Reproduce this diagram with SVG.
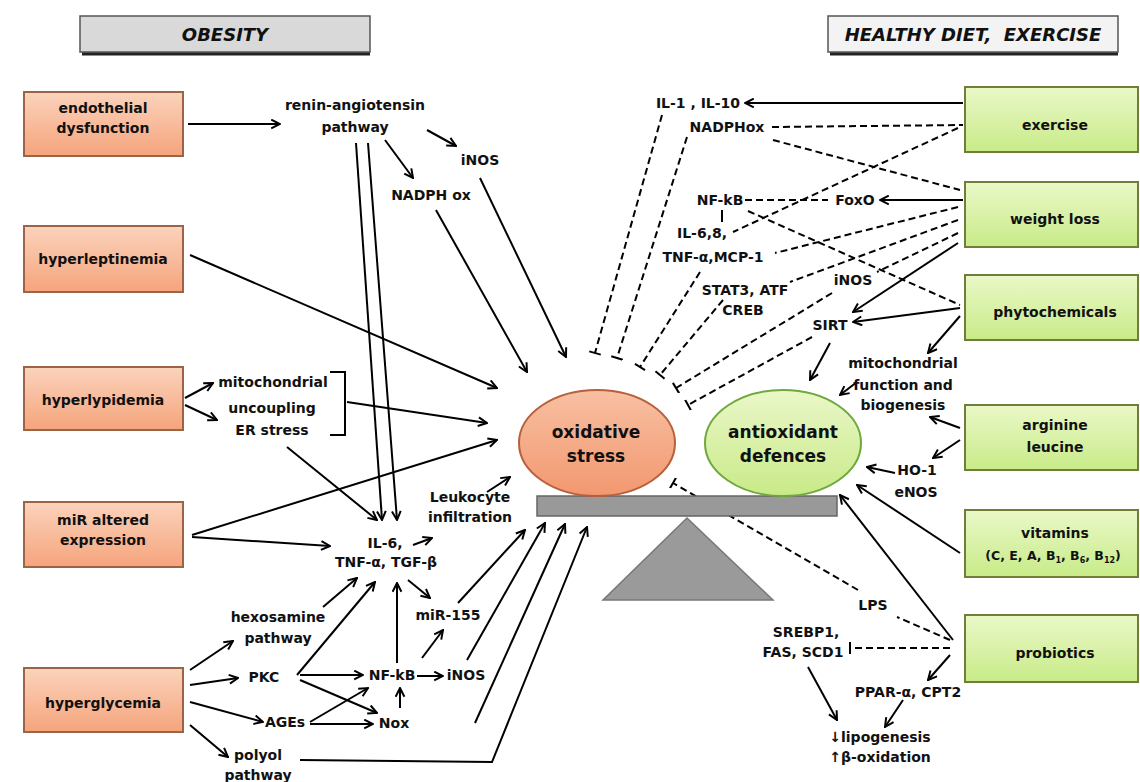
<svg xmlns="http://www.w3.org/2000/svg" width="1140" height="782" viewBox="0 0 1140 782">
<style>
.t{font-family:"DejaVu Sans",sans-serif;font-weight:bold;font-size:14px;text-anchor:middle;fill:#111}
.e{font-family:"DejaVu Sans",sans-serif;font-weight:bold;font-size:17px;text-anchor:middle;fill:#111}
.h{font-family:"DejaVu Sans",sans-serif;font-weight:bold;font-style:italic;font-size:18px;text-anchor:middle;fill:#111;white-space:pre}
.ob{fill:url(#og);stroke:#9c6446;stroke-width:2}
.gb{fill:url(#gg);stroke:#6f7f3a;stroke-width:2}
.s{fill:none;stroke:#000;stroke-width:2}
.d{fill:none;stroke:#000;stroke-width:2;stroke-dasharray:7,4}
.a{marker-end:url(#ah)}
.b{marker-end:url(#tb)}
</style>
<defs>
<linearGradient id="og" x1="0" y1="0" x2="0" y2="1"><stop offset="0" stop-color="#fbd3bc"/><stop offset="1" stop-color="#f5a47c"/></linearGradient>
<linearGradient id="gg" x1="0" y1="0" x2="0" y2="1"><stop offset="0" stop-color="#eaf8c8"/><stop offset="1" stop-color="#c8eb88"/></linearGradient>
<linearGradient id="oe" x1="0" y1="0" x2="0" y2="1"><stop offset="0" stop-color="#f8c0a2"/><stop offset="1" stop-color="#f29870"/></linearGradient>
<linearGradient id="ge" x1="0" y1="0" x2="0" y2="1"><stop offset="0" stop-color="#eaf7c8"/><stop offset="1" stop-color="#c9ea88"/></linearGradient>
<marker id="ah" viewBox="0 0 10 10" refX="9" refY="5" markerWidth="11" markerHeight="11" orient="auto" markerUnits="userSpaceOnUse"><path d="M1,1 L9,5 L1,9" fill="none" stroke="#000" stroke-width="1.8"/></marker>
<marker id="tb" viewBox="0 0 4 12" refX="2" refY="6" markerWidth="4" markerHeight="12" orient="auto" markerUnits="userSpaceOnUse"><path d="M2,0 L2,12" stroke="#000" stroke-width="2"/></marker>
</defs>
<rect width="1140" height="782" fill="#fff"/>

<g id="hdr-obesity">
<rect x="80" y="16" width="290" height="36" fill="#d9d9d9" stroke="#555" stroke-width="1.5"/>
<line x1="82" y1="54" x2="370" y2="54" stroke="#222" stroke-width="3"/>
<text class="h" x="225" y="41">OBESITY</text>
</g>
<g id="hdr-healthy">
<rect x="828" y="16" width="290" height="36" fill="#f3f3f3" stroke="#555" stroke-width="1.5"/>
<line x1="830" y1="54" x2="1118" y2="54" stroke="#222" stroke-width="3"/>
<text class="h" x="973" y="41">HEALTHY DIET,  EXERCISE</text>
</g>

<g id="connectors">
<path class="s a" d="M188,124 L280,124"/>
<path class="s a" d="M427,130 L456,146"/>
<path class="s a" d="M385,140 L413,178"/>
<path class="s a" d="M356,143 L382,520"/>
<path class="s a" d="M368,143 L397,520"/>
<path class="s a" d="M436,210 L527,372"/>
<path class="s a" d="M480,178 L566,357"/>
<path class="s a" d="M190,255 L497,388"/>
<path class="s" d="M330,372 L345,372 L345,435 L330,435"/>
<path class="s a" d="M347,402 L487,423"/>
<path class="s a" d="M192,535 L497,440"/>
<path class="s a" d="M192,537 L330,546"/>
<path class="s a" d="M185,398 L213,383"/>
<path class="s a" d="M185,405 L217,420"/>
<path class="s a" d="M287,447 L377,520"/>
<path class="s a" d="M413,545 L432,538"/>
<path class="s a" d="M487,492 L510,477"/>
<path class="s a" d="M408,580 L430,598"/>
<path class="s a" d="M323,607 L357,578"/>
<path class="s a" d="M297,675 L375,582"/>
<path class="s a" d="M397,663 L397,583"/>
<path class="s a" d="M400,708 L400,688"/>
<path class="s a" d="M300,675 L363,675"/>
<path class="s a" d="M300,680 L377,713"/>
<path class="s a" d="M310,722 L368,688"/>
<path class="s a" d="M310,724 L373,724"/>
<path class="s a" d="M417,676 L443,676"/>
<path class="s a" d="M422,658 L443,630"/>
<path class="s a" d="M190,670 L233,641"/>
<path class="s a" d="M190,685 L238,678"/>
<path class="s a" d="M190,702 L263,722"/>
<path class="s a" d="M190,725 L228,757"/>
<path class="s a" d="M458,603 L525,530"/>
<path class="s a" d="M467,660 L545,523"/>
<path class="s a" d="M475,723 L565,524"/>
<path class="s a" d="M300,760 L492,762 L587,527"/>

<path class="s a" d="M963,103 L745,103"/>
<path class="d" d="M772,127 L963,125"/>
<path class="d" d="M773,140 L960,190"/>
<path class="d" d="M958,128 L733,232"/>
<path class="s a" d="M963,200 L880,200"/>
<path class="d" d="M745,200 L828,200"/>
<path class="s" d="M722,210 L722,222"/>
<path class="d" d="M748,211 L960,305"/>
<path class="d" d="M958,207 L775,253"/>
<path class="d" d="M958,220 L790,282"/>
<path class="d" d="M958,233 L877,272"/>
<path class="s a" d="M958,243 L853,312"/>
<path class="s a" d="M960,308 L853,322"/>
<path class="s a" d="M960,316 L928,353"/>
<path class="s a" d="M830,343 L810,380"/>
<path class="s a" d="M857,382 L840,395"/>
<path class="d b" d="M662,115 L595,353"/>
<path class="d b" d="M687,137 L617,358"/>
<path class="d b" d="M700,272 L640,367"/>
<path class="d b" d="M723,300 L660,375"/>
<path class="d b" d="M832,293 L676,388"/>
<path class="d b" d="M812,337 L688,405"/>
<path class="s a" d="M960,428 L930,417"/>
<path class="s a" d="M960,440 L933,458"/>
<path class="s a" d="M895,473 L867,467"/>
<path class="s a" d="M960,553 L857,485"/>
<path class="s a" d="M953,640 L840,495"/>
<path class="d" d="M950,640 L897,617"/>
<path class="d b" d="M858,590 L673,483"/>
<path class="d b" d="M950,648 L850,648"/>
<path class="s a" d="M950,655 L928,680"/>
<path class="s a" d="M808,667 L837,720"/>
<path class="s a" d="M903,700 L885,727"/>
</g>

<g id="n-endothelial"><rect class="ob" x="24" y="92" width="159" height="64"/><text class="t" x="103" y="113">endothelial</text><text class="t" x="103" y="133">dysfunction</text></g>
<g id="n-hyperleptinemia"><rect class="ob" x="24" y="226" width="159" height="66"/><text class="t" x="103" y="264">hyperleptinemia</text></g>
<g id="n-hyperlypidemia"><rect class="ob" x="24" y="367" width="159" height="63"/><text class="t" x="103" y="405">hyperlypidemia</text></g>
<g id="n-mir"><rect class="ob" x="24" y="502" width="159" height="65"/><text class="t" x="103" y="525">miR altered</text><text class="t" x="103" y="545">expression</text></g>
<g id="n-hyperglycemia"><rect class="ob" x="24" y="668" width="159" height="64"/><text class="t" x="103" y="708">hyperglycemia</text></g>

<g id="n-exercise"><rect class="gb" x="965" y="87" width="173" height="65"/><text class="t" x="1055" y="130">exercise</text></g>
<g id="n-weightloss"><rect class="gb" x="965" y="182" width="173" height="65"/><text class="t" x="1055" y="224">weight loss</text></g>
<g id="n-phyto"><rect class="gb" x="965" y="275" width="173" height="65"/><text class="t" x="1055" y="317">phytochemicals</text></g>
<g id="n-arginine"><rect class="gb" x="965" y="405" width="173" height="65"/><text class="t" x="1055" y="430">arginine</text><text class="t" x="1055" y="452">leucine</text></g>
<g id="n-vitamins"><rect class="gb" x="965" y="510" width="173" height="67"/><text class="t" x="1055" y="538">vitamins</text><text class="t" x="1053" y="560" style="font-size:12.5px">(C, E, A, B<tspan style="font-size:8px" dy="3">1</tspan><tspan dy="-3">, B</tspan><tspan style="font-size:8px" dy="3">6</tspan><tspan dy="-3">, B</tspan><tspan style="font-size:8px" dy="3">12</tspan><tspan dy="-3">)</tspan></text></g>
<g id="n-probiotics"><rect class="gb" x="965" y="615" width="173" height="67"/><text class="t" x="1055" y="658">probiotics</text></g>

<g id="n-balance">
<rect x="537" y="496" width="300" height="20" fill="#999" stroke="#666" stroke-width="1.5"/>
<polygon points="687,518 603,600 773,600" fill="#9a9a9a" stroke="#777" stroke-width="1.5"/>
</g>
<g id="n-oxstress"><ellipse cx="597" cy="443" rx="78" ry="53" fill="url(#oe)" stroke="#b8603c" stroke-width="2"/><text class="e" x="596" y="438">oxidative</text><text class="e" x="596" y="462">stress</text></g>
<g id="n-antiox"><ellipse cx="783" cy="443" rx="78" ry="53" fill="url(#ge)" stroke="#6fa83c" stroke-width="2"/><text class="e" x="783" y="438">antioxidant</text><text class="e" x="783" y="462">defences</text></g>

<g id="n-renin"><text class="t" x="355" y="110">renin-angiotensin</text><text class="t" x="355" y="132">pathway</text></g>
<g id="n-inos1"><text class="t" x="480" y="165">iNOS</text></g>
<g id="n-nadphox1"><text class="t" x="431" y="200">NADPH ox</text></g>
<g id="n-mito1"><text class="t" x="273" y="387">mitochondrial</text><text class="t" x="272" y="413">uncoupling</text><text class="t" x="272" y="435">ER stress</text></g>
<g id="n-il6"><text class="t" x="385" y="548">IL-6,</text><text class="t" x="386" y="567">TNF-α, TGF-β</text></g>
<g id="n-leuko"><text class="t" x="470" y="502">Leukocyte</text><text class="t" x="470" y="522">infiltration</text></g>
<g id="n-hexo"><text class="t" x="278" y="622">hexosamine</text><text class="t" x="278" y="643">pathway</text></g>
<g id="n-mir155"><text class="t" x="448" y="620">miR-155</text></g>
<g id="n-pkc"><text class="t" x="264" y="682">PKC</text></g>
<g id="n-nfkb1"><text class="t" x="392" y="680">NF-kB</text></g>
<g id="n-inos2"><text class="t" x="466" y="680">iNOS</text></g>
<g id="n-ages"><text class="t" x="285" y="727">AGEs</text></g>
<g id="n-nox"><text class="t" x="394" y="728">Nox</text></g>
<g id="n-polyol"><text class="t" x="258" y="760">polyol</text><text class="t" x="258" y="780">pathway</text></g>

<g id="n-il1"><text class="t" x="698" y="108">IL-1 , IL-10</text></g>
<g id="n-nadphox2"><text class="t" x="727" y="132">NADPHox</text></g>
<g id="n-nfkb2"><text class="t" x="720" y="205">NF-kB</text></g>
<g id="n-foxo"><text class="t" x="855" y="205">FoxO</text></g>
<g id="n-il68"><text class="t" x="702" y="238">IL-6,8,</text><text class="t" x="713" y="262">TNF-α,MCP-1</text></g>
<g id="n-stat3"><text class="t" x="745" y="295">STAT3, ATF</text><text class="t" x="743" y="315">CREB</text></g>
<g id="n-inos3"><text class="t" x="853" y="285">iNOS</text></g>
<g id="n-sirt"><text class="t" x="830" y="330">SIRT</text></g>
<g id="n-mito2"><text class="t" x="903" y="368">mitochondrial</text><text class="t" x="903" y="390">function and</text><text class="t" x="903" y="410">biogenesis</text></g>
<g id="n-ho1"><text class="t" x="917" y="475">HO-1</text><text class="t" x="916" y="497">eNOS</text></g>
<g id="n-lps"><text class="t" x="873" y="610">LPS</text></g>
<g id="n-srebp"><text class="t" x="806" y="637">SREBP1,</text><text class="t" x="803" y="657">FAS, SCD1</text></g>
<g id="n-ppar"><text class="t" x="908" y="697">PPAR-α, CPT2</text></g>
<g id="n-lipo"><text class="t" x="880" y="742">↓lipogenesis</text><text class="t" x="880" y="762">↑β-oxidation</text></g>
</svg>
